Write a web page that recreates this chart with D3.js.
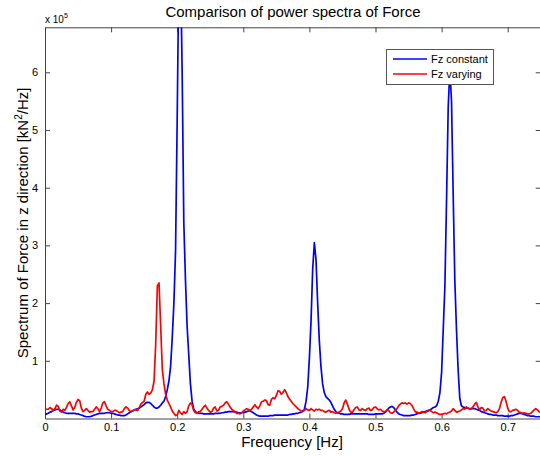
<!DOCTYPE html>
<html>
<head>
<meta charset="utf-8">
<script src="https://cdn.jsdelivr.net/npm/d3@7"></script>
<style>
  html, body { margin: 0; padding: 0; background: #fff; }
  svg { display: block; font-family: "Liberation Sans", Arial, Helvetica, sans-serif; }
  .tick text { font-size: 11px; fill: #000; }
</style>
</head>
<body>
<svg id="chart" width="540" height="456"></svg>
<script>
// Power spectral density of the vertical force, in units of 1e5 kN^2/Hz,
// sampled every 0.0025 Hz from 0 to 0.75 Hz.
const frequencyStep = 0.0025;

const seriesNames = ["Fz constant", "Fz varying"];
const seriesColors = ["#0000ff", "#ff0000"];

const fzConstant = [
  0.07,0.08,0.09,0.11,0.12,0.14,0.15,0.16,0.16,0.15,
  0.13,0.11,0.10,0.09,0.09,0.09,0.09,0.09,0.09,0.08,
  0.08,0.07,0.06,0.05,0.04,0.03,0.03,0.03,0.04,0.05,
  0.06,0.07,0.08,0.09,0.09,0.09,0.09,0.10,0.10,0.10,
  0.09,0.09,0.08,0.07,0.06,0.06,0.05,0.05,0.05,0.06,
  0.08,0.10,0.12,0.13,0.15,0.16,0.17,0.18,0.20,0.22,
  0.24,0.27,0.28,0.28,0.26,0.23,0.20,0.18,0.18,0.20,
  0.23,0.27,0.30,0.38,0.50,0.65,0.90,1.40,2.00,2.90,
  5.20,7.80,7.90,6.00,3.40,2.40,1.60,1.10,0.60,0.30,
  0.16,0.12,0.10,0.09,0.09,0.09,0.08,0.08,0.08,0.08,
  0.08,0.08,0.08,0.09,0.09,0.09,0.09,0.10,0.10,0.11,
  0.11,0.12,0.12,0.12,0.12,0.11,0.11,0.10,0.10,0.10,
  0.10,0.11,0.12,0.13,0.13,0.12,0.10,0.08,0.06,0.05,
  0.04,0.04,0.04,0.04,0.04,0.04,0.05,0.05,0.05,0.06,
  0.06,0.06,0.06,0.06,0.06,0.06,0.06,0.06,0.07,0.07,
  0.08,0.08,0.09,0.09,0.10,0.11,0.13,0.16,0.30,0.55,
  1.05,1.70,2.60,3.05,2.75,2.00,1.35,0.90,0.60,0.45,
  0.38,0.35,0.32,0.28,0.22,0.16,0.12,0.10,0.09,0.08,
  0.08,0.07,0.07,0.07,0.07,0.08,0.08,0.08,0.08,0.08,
  0.08,0.08,0.08,0.08,0.08,0.08,0.07,0.07,0.07,0.07,
  0.08,0.08,0.08,0.08,0.08,0.09,0.11,0.14,0.18,0.20,
  0.21,0.19,0.15,0.11,0.08,0.07,0.06,0.05,0.05,0.05,
  0.05,0.05,0.06,0.06,0.07,0.08,0.09,0.09,0.10,0.11,
  0.12,0.13,0.14,0.15,0.17,0.19,0.20,0.22,0.30,0.45,
  0.80,1.55,2.30,3.80,5.40,6.05,5.50,3.90,2.40,1.55,
  0.85,0.35,0.22,0.20,0.19,0.18,0.18,0.17,0.17,0.17,
  0.17,0.16,0.15,0.14,0.12,0.11,0.10,0.09,0.08,0.07,
  0.07,0.06,0.06,0.06,0.05,0.05,0.05,0.05,0.04,0.04,
  0.04,0.04,0.05,0.05,0.06,0.07,0.08,0.09,0.09,0.08,
  0.07,0.06,0.05,0.05,0.04,0.04,0.04,0.03,0.03,0.03,
  0.03
];

const fzVarying = [
  0.17,0.16,0.16,0.19,0.17,0.14,0.17,0.23,0.21,0.13,
  0.11,0.16,0.14,0.19,0.26,0.29,0.22,0.15,0.19,0.28,
  0.33,0.31,0.18,0.12,0.14,0.17,0.14,0.11,0.12,0.12,
  0.16,0.20,0.17,0.12,0.18,0.27,0.29,0.22,0.16,0.14,
  0.12,0.12,0.14,0.14,0.12,0.10,0.11,0.12,0.17,0.20,
  0.18,0.14,0.12,0.13,0.15,0.15,0.14,0.18,0.25,0.28,
  0.30,0.42,0.46,0.42,0.44,0.50,0.65,1.30,2.30,2.35,
  1.60,0.85,0.60,0.42,0.32,0.26,0.20,0.13,0.09,0.05,
  0.06,0.14,0.10,0.07,0.12,0.09,0.12,0.22,0.27,0.24,
  0.14,0.10,0.09,0.12,0.12,0.16,0.20,0.23,0.18,0.14,
  0.11,0.12,0.18,0.20,0.13,0.14,0.20,0.21,0.23,0.27,
  0.29,0.25,0.20,0.16,0.14,0.11,0.09,0.09,0.08,0.10,
  0.13,0.15,0.17,0.16,0.14,0.16,0.20,0.24,0.20,0.17,
  0.22,0.29,0.30,0.32,0.31,0.24,0.23,0.33,0.36,0.34,
  0.40,0.48,0.47,0.42,0.45,0.50,0.45,0.38,0.34,0.30,
  0.26,0.23,0.20,0.17,0.15,0.13,0.12,0.14,0.17,0.15,
  0.14,0.17,0.15,0.13,0.16,0.15,0.16,0.14,0.14,0.12,
  0.11,0.13,0.14,0.11,0.12,0.10,0.09,0.10,0.11,0.13,
  0.17,0.27,0.32,0.25,0.16,0.11,0.11,0.15,0.19,0.20,
  0.15,0.14,0.17,0.15,0.14,0.17,0.18,0.14,0.15,0.19,
  0.20,0.17,0.15,0.16,0.13,0.12,0.12,0.15,0.14,0.10,
  0.09,0.11,0.14,0.17,0.22,0.25,0.27,0.26,0.27,0.25,
  0.27,0.26,0.23,0.17,0.12,0.11,0.10,0.10,0.12,0.11,
  0.10,0.12,0.13,0.15,0.12,0.10,0.11,0.10,0.08,0.07,
  0.07,0.08,0.09,0.08,0.10,0.11,0.13,0.17,0.14,0.11,
  0.12,0.13,0.15,0.17,0.16,0.20,0.18,0.16,0.17,0.20,
  0.25,0.28,0.20,0.15,0.19,0.18,0.13,0.14,0.17,0.15,
  0.13,0.12,0.11,0.10,0.12,0.17,0.28,0.36,0.38,0.30,
  0.18,0.12,0.12,0.14,0.15,0.16,0.14,0.11,0.10,0.09,
  0.10,0.09,0.08,0.08,0.09,0.12,0.15,0.17,0.15,0.12,
  0.11
];

const xTicks = [0, 0.1, 0.2, 0.3, 0.4, 0.5, 0.6, 0.7];
const yTicks = [1, 2, 3, 4, 5, 6];
const xDomain = [0, 0.75];
const yDomain = [0, 6.78];

const svg = d3.select("#chart");
const plotLeft = 45, plotRight = 540.75, plotTop = 27.3, plotBottom = 418.5;

const x = d3.scaleLinear().domain(xDomain).range([plotLeft, plotRight]);
const y = d3.scaleLinear().domain(yDomain).range([plotBottom, plotTop]);

const frequency = fzConstant.map((_, i) => i * frequencyStep);
const series = [fzConstant, fzVarying];

svg.append("defs").append("clipPath").attr("id", "plot-clip")
  .append("rect").attr("x", plotLeft).attr("y", plotTop)
  .attr("width", plotRight - plotLeft).attr("height", plotBottom - plotTop);

// Axes box with inward ticks on all four sides
const axisColor = "#444";
const styleAxis = g => {
  g.select(".domain").attr("stroke", axisColor);
  g.selectAll(".tick line").attr("stroke", axisColor);
  g.selectAll(".tick text").attr("fill", "#000");
};

svg.append("g").attr("transform", `translate(0,${plotBottom})`)
  .call(d3.axisBottom(x).tickValues(xTicks).tickSize(-5).tickSizeOuter(0)
        .tickPadding(5).tickFormat(d3.format("~g")))
  .call(styleAxis);
svg.append("g").attr("transform", `translate(0,${plotTop})`)
  .call(d3.axisTop(x).tickValues(xTicks).tickSize(-5).tickSizeOuter(0).tickFormat(""))
  .call(styleAxis);
svg.append("g").attr("transform", `translate(${plotLeft},0)`)
  .call(d3.axisLeft(y).tickValues(yTicks).tickSize(-5).tickSizeOuter(0)
        .tickPadding(7).tickFormat(d3.format("d")))
  .call(styleAxis);
svg.append("g").attr("transform", `translate(${plotRight},0)`)
  .call(d3.axisRight(y).tickValues(yTicks).tickSize(-5).tickSizeOuter(0).tickFormat(""))
  .call(styleAxis);

// Spectra
const line = d3.line()
  .x((d, i) => x(frequency[i]))
  .y(d => y(d));

const plot = svg.append("g").attr("clip-path", "url(#plot-clip)");
plot.selectAll("path.spectrum")
  .data(series)
  .join("path")
  .attr("class", "spectrum")
  .attr("fill", "none")
  .attr("stroke", (d, i) => seriesColors[i])
  .attr("stroke-width", 1.7)
  .attr("stroke-linejoin", "round")
  .attr("d", line);

// Exponent marker above the y axis
const expo = svg.append("text").attr("x", plotLeft).attr("y", 22.5)
  .attr("font-size", 10).attr("fill", "#000");
expo.append("tspan").text("x 10");
expo.append("tspan").attr("font-size", 7).attr("dy", -5).text("5");

// Title
svg.append("text")
  .attr("x", 293).attr("y", 16.5)
  .attr("text-anchor", "middle")
  .attr("font-size", 15)
  .text("Comparison of power spectra of Force");

// Axis labels
svg.append("text")
  .attr("x", 292).attr("y", 447)
  .attr("text-anchor", "middle")
  .attr("font-size", 15)
  .text("Frequency [Hz]");

const ylab = svg.append("text")
  .attr("transform", `translate(28,${(plotTop + plotBottom) / 2}) rotate(-90)`)
  .attr("text-anchor", "middle")
  .attr("font-size", 15);
ylab.append("tspan").text("Spectrum of Force in z direction [kN");
ylab.append("tspan").attr("font-size", 10).attr("dy", -6).text("2");
ylab.append("tspan").attr("dy", 6).text("/Hz]");

// Legend
const legend = svg.append("g");
legend.append("rect")
  .attr("x", 386.5).attr("y", 49.5).attr("width", 107).attr("height", 35)
  .attr("fill", "#fff").attr("stroke", "#555");
seriesNames.forEach((name, i) => {
  const ly = 59 + i * 15;
  legend.append("line")
    .attr("x1", 393).attr("x2", 427).attr("y1", ly).attr("y2", ly)
    .attr("stroke", seriesColors[i]).attr("stroke-width", 1.7);
  legend.append("text")
    .attr("x", 431).attr("y", ly + 4)
    .attr("font-size", 11)
    .text(name);
});
</script>
</body>
</html>
